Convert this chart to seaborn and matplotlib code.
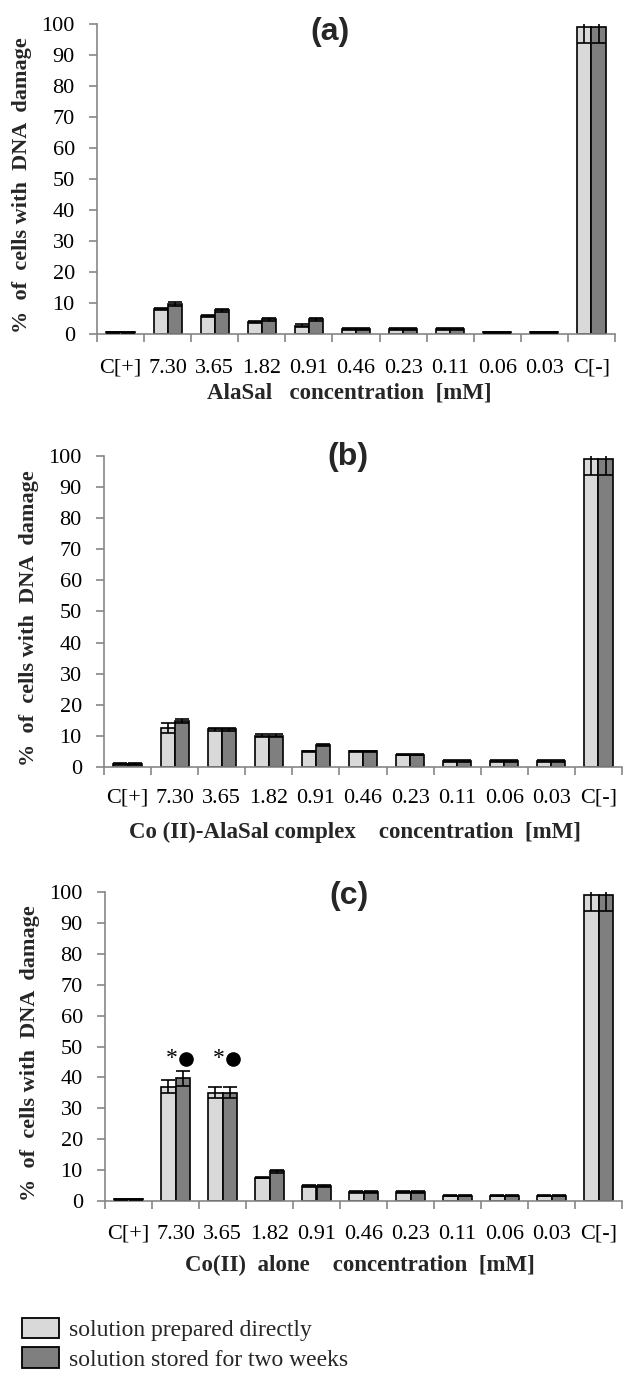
import numpy as np
import pandas as pd
import matplotlib
matplotlib.use("Agg")
import matplotlib.pyplot as plt
import seaborn as sns
from matplotlib.patches import Patch

# ---------------- data ----------------
categories = ["C[+]", "7.30", "3.65", "1.82", "0.91", "0.46", "0.23", "0.11", "0.06", "0.03", "C[-]"]
series_names = ["solution prepared directly", "solution stored for two weeks"]

a_direct = [0.5, 8.0, 5.8, 3.8, 2.7, 1.6, 1.6, 1.6, 0.5, 0.5, 99.0]
a_stored = [0.5, 9.7, 7.7, 4.7, 4.7, 1.6, 1.6, 1.6, 0.5, 0.5, 99.0]
a_direct_err = [0.2, 0.4, 0.4, 0.4, 0.4, 0.2, 0.2, 0.2, 0.2, 0.2, 5.0]
a_stored_err = [0.2, 0.6, 0.5, 0.5, 0.5, 0.2, 0.2, 0.2, 0.2, 0.2, 5.0]

b_direct = [1.0, 12.5, 12.2, 10.0, 5.0, 5.0, 4.0, 2.0, 2.0, 2.0, 99.0]
b_stored = [1.0, 14.8, 12.2, 10.0, 7.0, 5.0, 4.0, 2.0, 2.0, 2.0, 99.0]
b_direct_err = [0.2, 1.5, 0.5, 0.5, 0.3, 0.3, 0.2, 0.3, 0.3, 0.3, 5.0]
b_stored_err = [0.2, 0.6, 0.5, 0.5, 0.4, 0.3, 0.2, 0.3, 0.3, 0.3, 5.0]

c_direct = [0.5, 37.0, 35.0, 7.6, 4.8, 2.8, 2.8, 1.7, 1.7, 1.7, 99.0]
c_stored = [0.5, 39.7, 35.0, 9.6, 4.8, 2.8, 2.8, 1.7, 1.7, 1.7, 99.0]
c_direct_err = [0.2, 2.0, 1.8, 0.3, 0.3, 0.3, 0.3, 0.2, 0.2, 0.2, 5.0]
c_stored_err = [0.2, 2.4, 1.8, 0.5, 0.3, 0.3, 0.3, 0.2, 0.2, 0.2, 5.0]
c_marked = ["7.30", "3.65"]   # significance marks: * (direct) and ● (stored)

titles = ["(a)", "(b)", "(c)"]
xlabels = ["AlaSal   concentration  [mM]",
           "Co (II)-AlaSal complex    concentration  [mM]",
           "Co(II)  alone    concentration  [mM]"]
ylabel = "%  of  cells with  DNA  damage"

# ---------------- style ----------------
sns.set_style("ticks")
plt.rcParams["font.family"] = ["Liberation Serif", "DejaVu Serif"]
LIGHT = "#d9d9d9"
DARK = "#7f7f7f"
GRAY = "#868686"

W, H = 623, 1374
fig = plt.figure(figsize=(W / 100, H / 100), dpi=100)


def add_axes_px(left, right, top, bottom):
    return fig.add_axes([left / W, 1 - bottom / H, (right - left) / W, (bottom - top) / H])


def draw(ax, direct, stored, d_err, s_err, xlabel, title, title_xy, xlabel_xy, xpad, marked=None):
    df = pd.DataFrame({
        "conc": categories * 2,
        "value": direct + stored,
        "series": [series_names[0]] * len(categories) + [series_names[1]] * len(categories),
    })
    sns.barplot(data=df, x="conc", y="value", hue="series", order=categories,
                hue_order=series_names, palette=[LIGHT, DARK], saturation=1,
                width=0.6, gap=0, errorbar=None, edgecolor="black", linewidth=1.2,
                legend=False, ax=ax, zorder=2)
    centers = []
    tops = []
    for cont, err in zip(ax.containers, [d_err, s_err]):
        xs = [p.get_x() + p.get_width() / 2 for p in cont.patches]
        hs = [p.get_height() for p in cont.patches]
        centers.append(xs)
        tops.append([h + e for h, e in zip(hs, err)])
        ax.errorbar(xs, hs, yerr=err, fmt="none", ecolor="black", elinewidth=1.2,
                    capsize=4.8, capthick=1.2, zorder=3)

    if marked:
        idx = [categories.index(m) for m in marked]
        ymark = max(max(tops[0][i], tops[1][i]) for i in idx) + 4
        for i in idx:
            ax.text(centers[0][i] + 0.07, ymark, "*", ha="center", va="center",
                    fontsize=17, color="black", zorder=4)
            ax.plot([centers[1][i] + 0.08], [ymark], "o", color="black",
                    markersize=9.5, zorder=4)

    ax.set_xlim(-0.5, len(categories) - 0.5)
    ax.set_ylim(0, 100)
    ax.set_yticks(np.arange(0, 101, 10))
    ax.set_xticks(np.arange(len(categories)))
    ax.set_xticklabels(categories)
    ax.set_xticks(np.arange(-0.5, len(categories), 1), minor=True)
    ax.tick_params(axis="x", which="major", length=0, pad=xpad, labelsize=16, labelcolor="black")
    ax.tick_params(axis="x", which="minor", length=6, width=1.2, color=GRAY)
    ax.tick_params(axis="y", which="major", length=6, width=1.2, color=GRAY, pad=10,
                   labelsize=16, labelcolor="black")
    for s in ["top", "right"]:
        ax.spines[s].set_visible(False)
    for s in ["left", "bottom"]:
        ax.spines[s].set_color(GRAY)
        ax.spines[s].set_linewidth(1.2)

    ax.set_ylabel(ylabel, fontsize=16, fontweight="bold")
    ax.yaxis.set_label_coords(-0.145, 0.48)
    ax.yaxis.label.set_va("center")
    ax.set_xlabel(xlabel, fontsize=16.5, fontweight="bold")
    ax.xaxis.set_label_coords(xlabel_xy[0], xlabel_xy[1])
    ax.xaxis.label.set_va("center")

    ax.text(title_xy[0], title_xy[1], title, transform=ax.transAxes, ha="center", va="center",
            fontsize=23, fontweight="bold", family=["Liberation Sans", "DejaVu Sans"])


ax_a = add_axes_px(97, 615, 24, 334)
ax_b = add_axes_px(104, 622, 456, 767)
ax_c = add_axes_px(105, 622, 892, 1201)

draw(ax_a, a_direct, a_stored, a_direct_err, a_stored_err, xlabels[0], titles[0],
     (0.450, 0.974), (0.488, -0.19), 18)
draw(ax_b, b_direct, b_stored, b_direct_err, b_stored_err, xlabels[1], titles[1],
     (0.471, 0.997), (0.485, -0.209), 15.5)
draw(ax_c, c_direct, c_stored, c_direct_err, c_stored_err, xlabels[2], titles[2],
     (0.472, 0.987), (0.493, -0.207), 17, marked=c_marked)

handles = [Patch(facecolor=LIGHT, edgecolor="black", linewidth=1.3),
           Patch(facecolor=DARK, edgecolor="black", linewidth=1.3)]
fig.legend(handles, series_names, loc="upper left", bbox_to_anchor=(22 / W, 1 - 1318 / H),
           frameon=False, borderpad=0, borderaxespad=0, handlelength=1.55, handleheight=0.95,
           handletextpad=0.45, labelspacing=0.25, fontsize=17)

fig.savefig("out.png", dpi=100)
